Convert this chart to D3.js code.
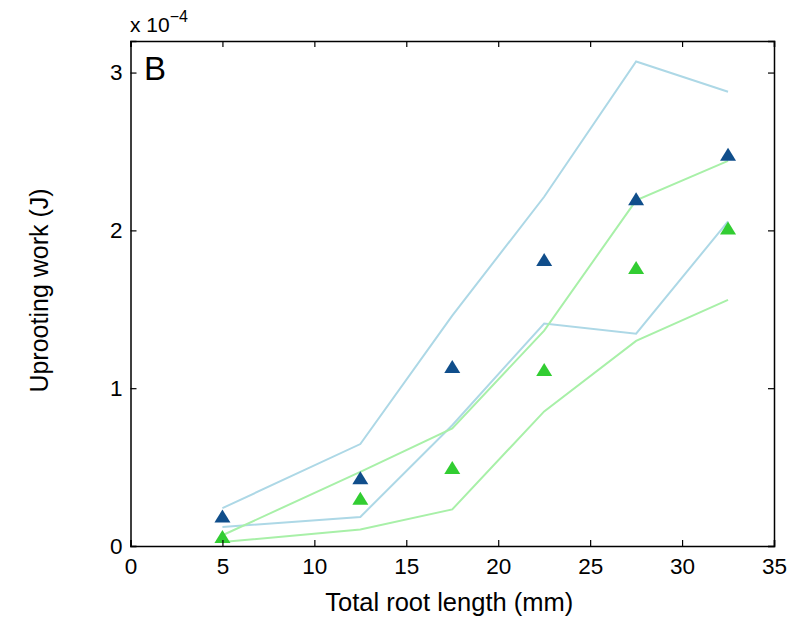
<!DOCTYPE html>
<html><head><meta charset="utf-8">
<script src="https://cdn.jsdelivr.net/npm/d3@7"></script>
<style>body{margin:0;background:#fff}svg{display:block}text{font-family:"Liberation Sans",Arial,Helvetica,sans-serif;fill:#000}</style>
</head><body>
<script>
const lengths = [5, 12.5, 17.5, 22.5, 27.5, 32.5];
const meanBlue = [0.19, 0.433, 1.137, 1.815, 2.20, 2.483];
const meanGreen = [0.06, 0.302, 0.498, 1.119, 1.764, 2.015];
const blueUpper = [0.24, 0.646, 1.46, 2.213, 3.07, 2.878];
const blueLower = [0.12, 0.184, 0.765, 1.41, 1.345, 2.057];
const greenUpper = [0.068, 0.47, 0.745, 1.365, 2.19, 2.44];
const greenLower = [0.025, 0.104, 0.232, 0.853, 1.30, 1.56];
const xTicks = [0, 5, 10, 15, 20, 25, 30, 35];
const yTicks = [0, 1, 2, 3];

const W = 795, H = 620;
const m = {left: 130.5, right: 21, top: 41, bottom: 74};
const svg = d3.select("body").append("svg").attr("width", W).attr("height", H);
const x = d3.scaleLinear().domain([0, 35]).range([m.left, W - m.right]);
const y = d3.scaleLinear().domain([0, 3.2]).range([H - m.bottom, m.top]);

const line = d3.line().x((d, i) => x(lengths[i])).y(d => y(d));
const bands = [
  [blueUpper, "#add8e6"], [blueLower, "#add8e6"],
  [greenUpper, "#a8f0a8"], [greenLower, "#a8f0a8"]
];
bands.forEach(([arr, c]) => {
  svg.append("path").datum(arr).attr("d", line).attr("fill", "none")
    .attr("stroke", c).attr("stroke-width", 2);
});

function tri(cx, cy) {
  const h = 13, w = 16;
  return `M${cx},${cy - h / 2}L${cx + w / 2},${cy + h / 2}L${cx - w / 2},${cy + h / 2}Z`;
}
[[meanBlue, "#104e8b"], [meanGreen, "#32cd32"]].forEach(([arr, c]) => {
  svg.append("g").selectAll("path").data(arr).join("path")
    .attr("d", (d, i) => tri(x(lengths[i]), y(d))).attr("fill", c);
});

// axes
const tl = 6;
const gx = svg.append("g").attr("transform", `translate(0,${y(0)})`)
  .call(d3.axisBottom(x).tickValues(xTicks).tickSize(-tl).tickPadding(12).tickFormat(d3.format("d")));
const gxt = svg.append("g").attr("transform", `translate(0,${y(3.2)})`)
  .call(d3.axisTop(x).tickValues(xTicks).tickSize(-tl).tickFormat(""));
const gy = svg.append("g").attr("transform", `translate(${x(0)},0)`)
  .call(d3.axisLeft(y).tickValues(yTicks).tickSize(-tl).tickPadding(8).tickFormat(d3.format("d")));
const gyr = svg.append("g").attr("transform", `translate(${x(35)},0)`)
  .call(d3.axisRight(y).tickValues(yTicks).tickSize(-tl).tickFormat(""));
[gx, gxt, gy, gyr].forEach(g => {
  g.attr("font-size", null).attr("font-family", null);
  g.select(".domain").attr("stroke", "#000").attr("stroke-width", 1.5);
  g.selectAll(".tick line").attr("stroke", "#000").attr("stroke-width", 1.2);
  g.selectAll("text").style("font-size", "22.5px").attr("fill", "#000");
});
gx.selectAll("text").attr("dy", "0.71em");

svg.append("text").attr("x", (x(0) + x(35)) / 2 - 3).attr("y", 611)
  .attr("text-anchor", "middle").style("font-size", "25.5px").text("Total root length (mm)");
svg.append("text").attr("transform", `translate(48,${(y(0) + y(3.2)) / 2 - 3}) rotate(-90)`)
  .attr("text-anchor", "middle").style("font-size", "25px").text("Uprooting work (J)");

const ex = svg.append("text").attr("x", 130).attr("y", 32).style("font-size", "21px");
ex.append("tspan").text("x 10");
ex.append("tspan").attr("dy", "-10").style("font-size", "16px").text("\u22124");

svg.append("text").attr("x", 144).attr("y", 80).style("font-size", "33px").text("B");
</script>
</body></html>
